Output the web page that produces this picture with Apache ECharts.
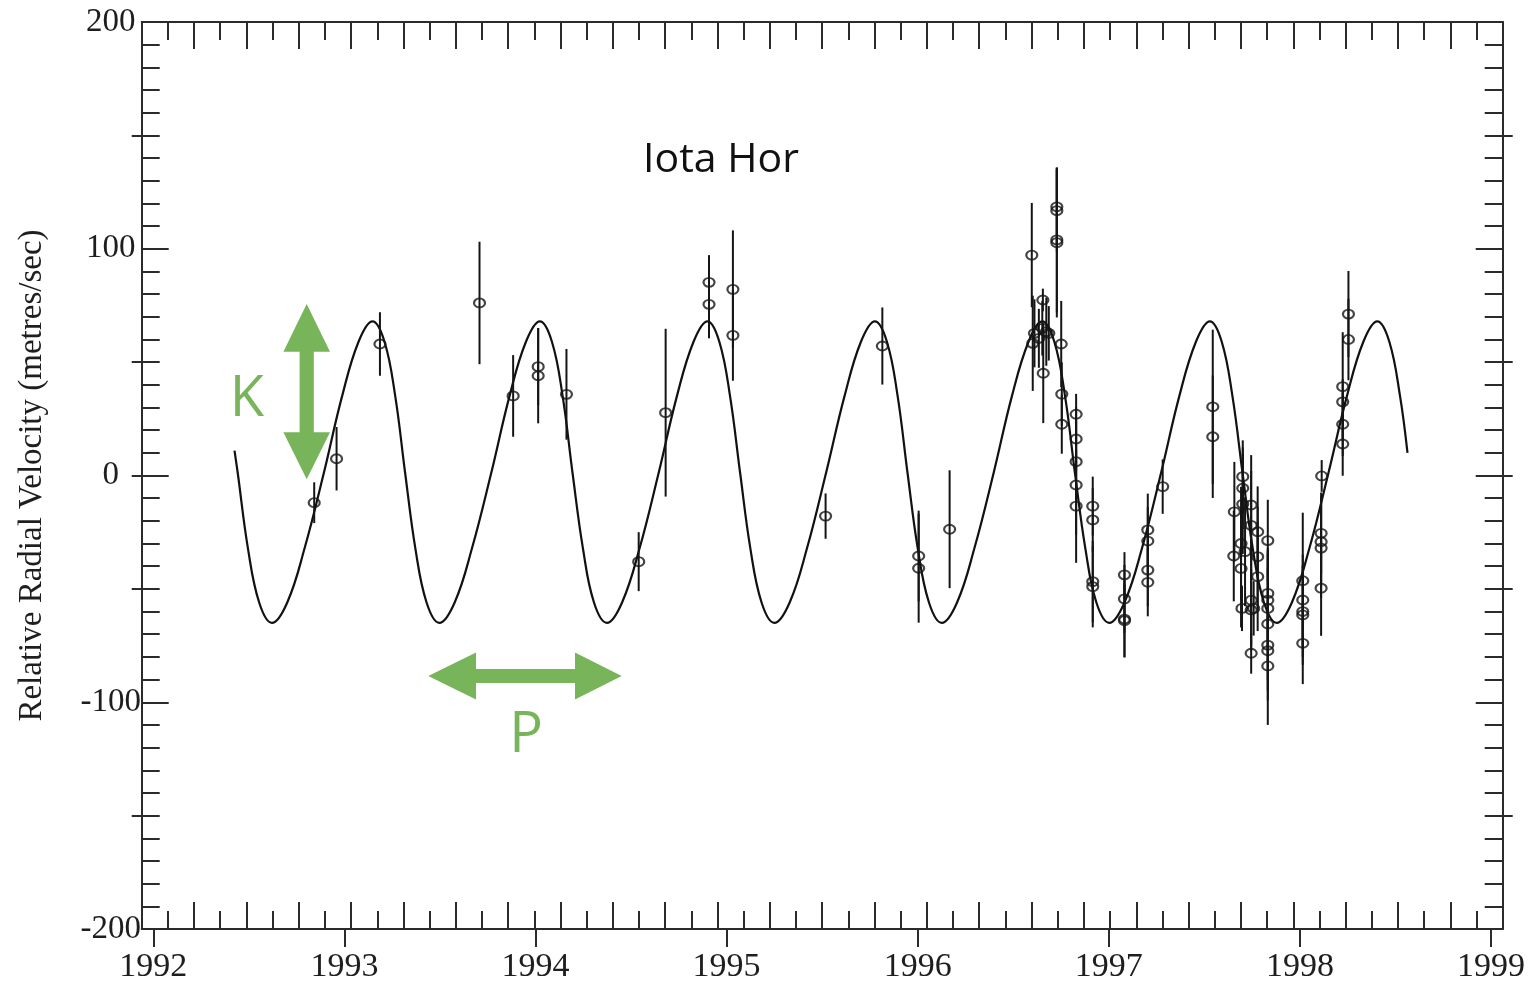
<!DOCTYPE html>
<html>
<head>
<meta charset="utf-8">
<title>Iota Hor radial velocity</title>
<script src="https://cdn.jsdelivr.net/npm/echarts@6/dist/echarts.min.js"></script>
<style>
  html, body { margin: 0; padding: 0; background: #ffffff; }
  #chart { width: 1528px; height: 987px; }
</style>
</head>
<body>
<div id="chart"></div>
<script>
// Radial velocity measurements of Iota Hor: epoch (year), velocity (m/s), 1-sigma error (m/s)
const obsYear = [
  1992.842, 1992.959, 1993.186, 1993.707, 1993.883, 1994.014, 1994.014, 1994.162,
  1994.540, 1994.681, 1994.908, 1994.908, 1995.033, 1995.033, 1995.518, 1995.815,
  1996.005, 1996.005, 1996.167,
  1996.597, 1996.602, 1996.611, 1996.634, 1996.652, 1996.673, 1996.686, 1996.655, 1996.657,
  1996.728, 1996.728, 1996.728, 1996.728, 1996.751, 1996.754, 1996.754,
  1996.829, 1996.829, 1996.829, 1996.829, 1996.829,
  1996.916, 1996.916, 1996.916, 1996.916,
  1997.082, 1997.082, 1997.082, 1997.082,
  1997.204, 1997.204, 1997.204, 1997.204, 1997.282,
  1997.544, 1997.544,
  1997.657, 1997.654, 1997.701, 1997.701, 1997.701, 1997.692, 1997.713, 1997.692, 1997.697,
  1997.745, 1997.745, 1997.745, 1997.745, 1997.745,
  1997.779, 1997.779, 1997.779, 1997.758,
  1997.832, 1997.832, 1997.832, 1997.832, 1997.832, 1997.832, 1997.832, 1997.832,
  1998.015, 1998.015, 1998.015, 1998.015, 1998.015,
  1998.111, 1998.111, 1998.111, 1998.111, 1998.114,
  1998.224, 1998.224, 1998.224, 1998.224, 1998.254, 1998.254
];
const obsVel = [
  -12.0, 7.4, 58.0, 76.1, 35.1, 48.0, 44.0, 35.8,
  -38.0, 27.7, 85.2, 75.5, 82.1, 61.8, -17.9, 57.1,
  -35.5, -40.9, -23.7,
  97.2, 58.3, 62.7, 60.5, 64.9, 63.4, 62.7, 77.4, 45.1,
  118.5, 116.8, 103.9, 102.7, 58.0, 35.9, 22.6,
  27.0, 16.1, 6.1, -4.2, -13.5,
  -13.5, -19.6, -46.8, -49.0,
  -43.8, -54.4, -63.3, -64.0,
  -24.0, -28.9, -41.7, -47.1, -4.9,
  30.3, 17.1,
  -16.0, -35.5, -0.5, -5.6, -12.6, -30.0, -33.6, -41.0, -58.6,
  -13.0, -22.0, -55.0, -59.3, -78.4,
  -24.8, -35.8, -44.6, -58.6,
  -28.7, -52.0, -55.0, -58.6, -65.5, -74.8, -77.3, -84.0,
  -46.4, -54.9, -60.0, -61.5, -74.0,
  -25.5, -29.2, -32.0, -49.7, -0.2,
  39.2, 32.5, 22.6, 13.9, 71.2, 60.0
];
const obsErr = [
  9, 14, 14, 27, 18, 17, 21, 20,
  13, 37, 12, 15, 26, 20, 10, 17,
  20, 24, 26,
  23, 21, 15, 13, 12, 15, 12, 5, 22,
  17, 18, 32, 33, 19, 14, 13,
  9, 14, 18, 22, 25,
  13, 14, 18, 18,
  10, 15, 17, 16,
  16, 15, 16, 15, 12,
  34, 27,
  22, 20, 16, 18, 22, 25, 24, 26, 10,
  22, 24, 20, 18, 9,
  20, 22, 24, 12,
  18, 20, 22, 24, 25, 20, 22, 26,
  30, 20, 20, 22, 18,
  18, 20, 22, 21, 7,
  24, 10, 14, 14, 19, 18
];

// Orbital fit curve (year, m/s)
const curveYears = [
  1992.425, 1992.442, 1992.495, 1992.554, 1992.621, 1992.701, 1992.792, 1992.892, 1992.988, 1993.074,
  1993.147, 1993.210, 1993.266, 1993.318, 1993.371, 1993.430, 1993.497, 1993.577, 1993.668, 1993.768, 1993.864, 1993.950,
  1994.023, 1994.086, 1994.142, 1994.194, 1994.248, 1994.306, 1994.374, 1994.453, 1994.545, 1994.644, 1994.740, 1994.827,
  1994.900, 1994.962, 1995.018, 1995.071, 1995.124, 1995.183, 1995.250, 1995.330, 1995.421, 1995.520, 1995.617, 1995.703,
  1995.776, 1995.839, 1995.895, 1995.947, 1996.000, 1996.059, 1996.126, 1996.206, 1996.297, 1996.397, 1996.493, 1996.580,
  1996.652, 1996.715, 1996.771, 1996.823, 1996.877, 1996.935, 1997.003, 1997.082, 1997.174, 1997.273, 1997.369, 1997.456,
  1997.529, 1997.591, 1997.647, 1997.700, 1997.753, 1997.812, 1997.879, 1997.958, 1998.050, 1998.149, 1998.246, 1998.332,
  1998.405, 1998.468, 1998.524, 1998.563
];
const curveVel = [
  11, 1, -32, -56, -65, -56, -32, 1, 35, 59,
  68, 59, 35, 1, -32, -56, -65, -56, -32, 1, 35, 59,
  68, 59, 35, 1, -32, -56, -65, -56, -32, 1, 35, 59,
  68, 59, 35, 1, -32, -56, -65, -56, -32, 1, 35, 59,
  68, 59, 35, 1, -32, -56, -65, -56, -32, 1, 35, 59,
  68, 59, 35, 1, -32, -56, -65, -56, -32, 1, 35, 59,
  68, 59, 35, 1, -32, -56, -65, -56, -32, 1, 35, 59,
  68, 59, 35, 10
];

const yearRange = [1992, 1999];
const velRange = [-200, 200];
const frameDivisions = 52;
const velOuterTicks = [-150, -50, 0, 50, 150];

const titleText = 'Iota Hor';
const yName = 'Relative Radial Velocity (metres/sec)';
const ink = '#2b2b2b';
const green = '#78b45a';
const serif = '"Liberation Serif", "DejaVu Serif", serif';
const sans = '"Open Sans", "Noto Sans", sans-serif';

const chart = echarts.init(document.getElementById('chart'), null, { renderer: 'canvas' });

const errData = obsYear.map((x, i) => [x, obsVel[i] - obsErr[i], obsVel[i] + obsErr[i]]);
const pointData = obsYear.map((x, i) => [x, obsVel[i]]);
const curveData = curveYears.map((x, i) => [x, curveVel[i]]);

const frameX = (pos) => ({
  gridIndex: 1, type: 'value', position: pos, min: 0, max: frameDivisions, interval: 2,
  axisLine: { show: true, onZero: false, lineStyle: { color: ink, width: 2 } },
  axisTick: { show: true, inside: true, length: 27, lineStyle: { color: ink, width: 2 } },
  minorTick: { show: true, splitNumber: 2, length: 18, lineStyle: { color: ink, width: 2 } },
  axisLabel: { show: false }, splitLine: { show: false }, minorSplitLine: { show: false }
});
const frameY = (pos, labels) => ({
  gridIndex: 1, type: 'value', position: pos, min: velRange[0], max: velRange[1], interval: 100,
  axisLine: { show: true, onZero: false, lineStyle: { color: ink, width: 2 } },
  axisTick: { show: true, inside: true, length: 27, lineStyle: { color: ink, width: 2 } },
  minorTick: { show: true, splitNumber: 10, length: 18, lineStyle: { color: ink, width: 2 } },
  axisLabel: labels ? { show: true, fontFamily: serif, fontSize: 33, color: '#1e1e1e', align: 'center', margin: 31 } : { show: false },
  splitLine: { show: false }, minorSplitLine: { show: false },
  name: labels ? yName : '', nameLocation: 'middle', nameGap: 93,
  nameTextStyle: { fontFamily: serif, fontSize: 33, color: '#1e1e1e' }
});
const outerY = (pos) => ({
  gridIndex: 1, type: 'value', position: pos, min: velRange[0], max: velRange[1], interval: 50,
  axisLine: { show: false, onZero: false },
  axisTick: { show: true, inside: false, length: 10, customValues: velOuterTicks, lineStyle: { color: ink, width: 2 } },
  axisLabel: { show: false }, splitLine: { show: false }
});

chart.setOption({
  animation: false,
  backgroundColor: '#ffffff',
  grid: [
    { left: 153.3, right: 36.3, top: 22, bottom: 58 },
    { left: 141.7, right: 25.3, top: 22, bottom: 58 }
  ],
  xAxis: [
    {
      gridIndex: 0, type: 'value', position: 'bottom', min: yearRange[0], max: yearRange[1], interval: 1,
      axisLine: { show: false, onZero: false },
      axisTick: { show: true, inside: false, length: 18, lineStyle: { color: ink, width: 2 } },
      axisLabel: { show: true, fontFamily: serif, fontSize: 34, color: '#1e1e1e', margin: 21,
                   formatter: (v) => String(v) },
      splitLine: { show: false }
    },
    frameX('bottom'),
    frameX('top')
  ],
  yAxis: [
    { gridIndex: 0, type: 'value', min: velRange[0], max: velRange[1], show: false },
    frameY('left', true),
    frameY('right', false),
    outerY('left'),
    outerY('right')
  ],
  series: [
    {
      name: 'fit', type: 'line', xAxisIndex: 0, yAxisIndex: 0,
      data: curveData, showSymbol: false, smooth: 0.4,
      lineStyle: { color: '#111111', width: 2.2 }, z: 2
    },
    {
      name: 'error', type: 'custom', xAxisIndex: 0, yAxisIndex: 0,
      data: errData, encode: { x: 0, y: [1, 2] },
      renderItem: function (params, api) {
        const p1 = api.coord([api.value(0), api.value(1)]);
        const p2 = api.coord([api.value(0), api.value(2)]);
        return {
          type: 'line',
          shape: { x1: p1[0], y1: p1[1], x2: p2[0], y2: p2[1] },
          style: { stroke: '#151515', lineWidth: 2 }
        };
      },
      z: 3
    },
    {
      name: 'velocity', type: 'scatter', xAxisIndex: 0, yAxisIndex: 0,
      data: pointData, symbol: 'circle', symbolSize: [11, 9],
      itemStyle: { color: 'rgba(255,255,255,0)', borderColor: '#151515', borderWidth: 2 },
      z: 4
    }
  ],
  graphic: [
    {
      type: 'text', x: 721, y: 160,
      style: { text: titleText, font: '41px ' + sans, fill: '#111111', align: 'center', verticalAlign: 'middle' }
    },
    {
      type: 'polygon',
      shape: { points: [[306.7, 304], [330, 351.7], [313.8, 351.7], [313.8, 432.3], [330, 432.3], [306.7, 479.3],
                        [283.4, 432.3], [299.6, 432.3], [299.6, 351.7], [283.4, 351.7]] },
      style: { fill: green }
    },
    {
      type: 'polygon',
      shape: { points: [[428.3, 676], [476, 652.5], [476, 669], [575, 669], [575, 652.5], [621.7, 676],
                        [575, 699.5], [575, 683], [476, 683], [476, 699.5]] },
      style: { fill: green }
    },
    {
      type: 'text', x: 247, y: 400,
      style: { text: 'K', font: '56px ' + sans, fill: green, align: 'center', verticalAlign: 'middle' }
    },
    {
      type: 'text', x: 526, y: 736,
      style: { text: 'P', font: '56px ' + sans, fill: green, align: 'center', verticalAlign: 'middle' }
    }
  ]
});
</script>
</body>
</html>
